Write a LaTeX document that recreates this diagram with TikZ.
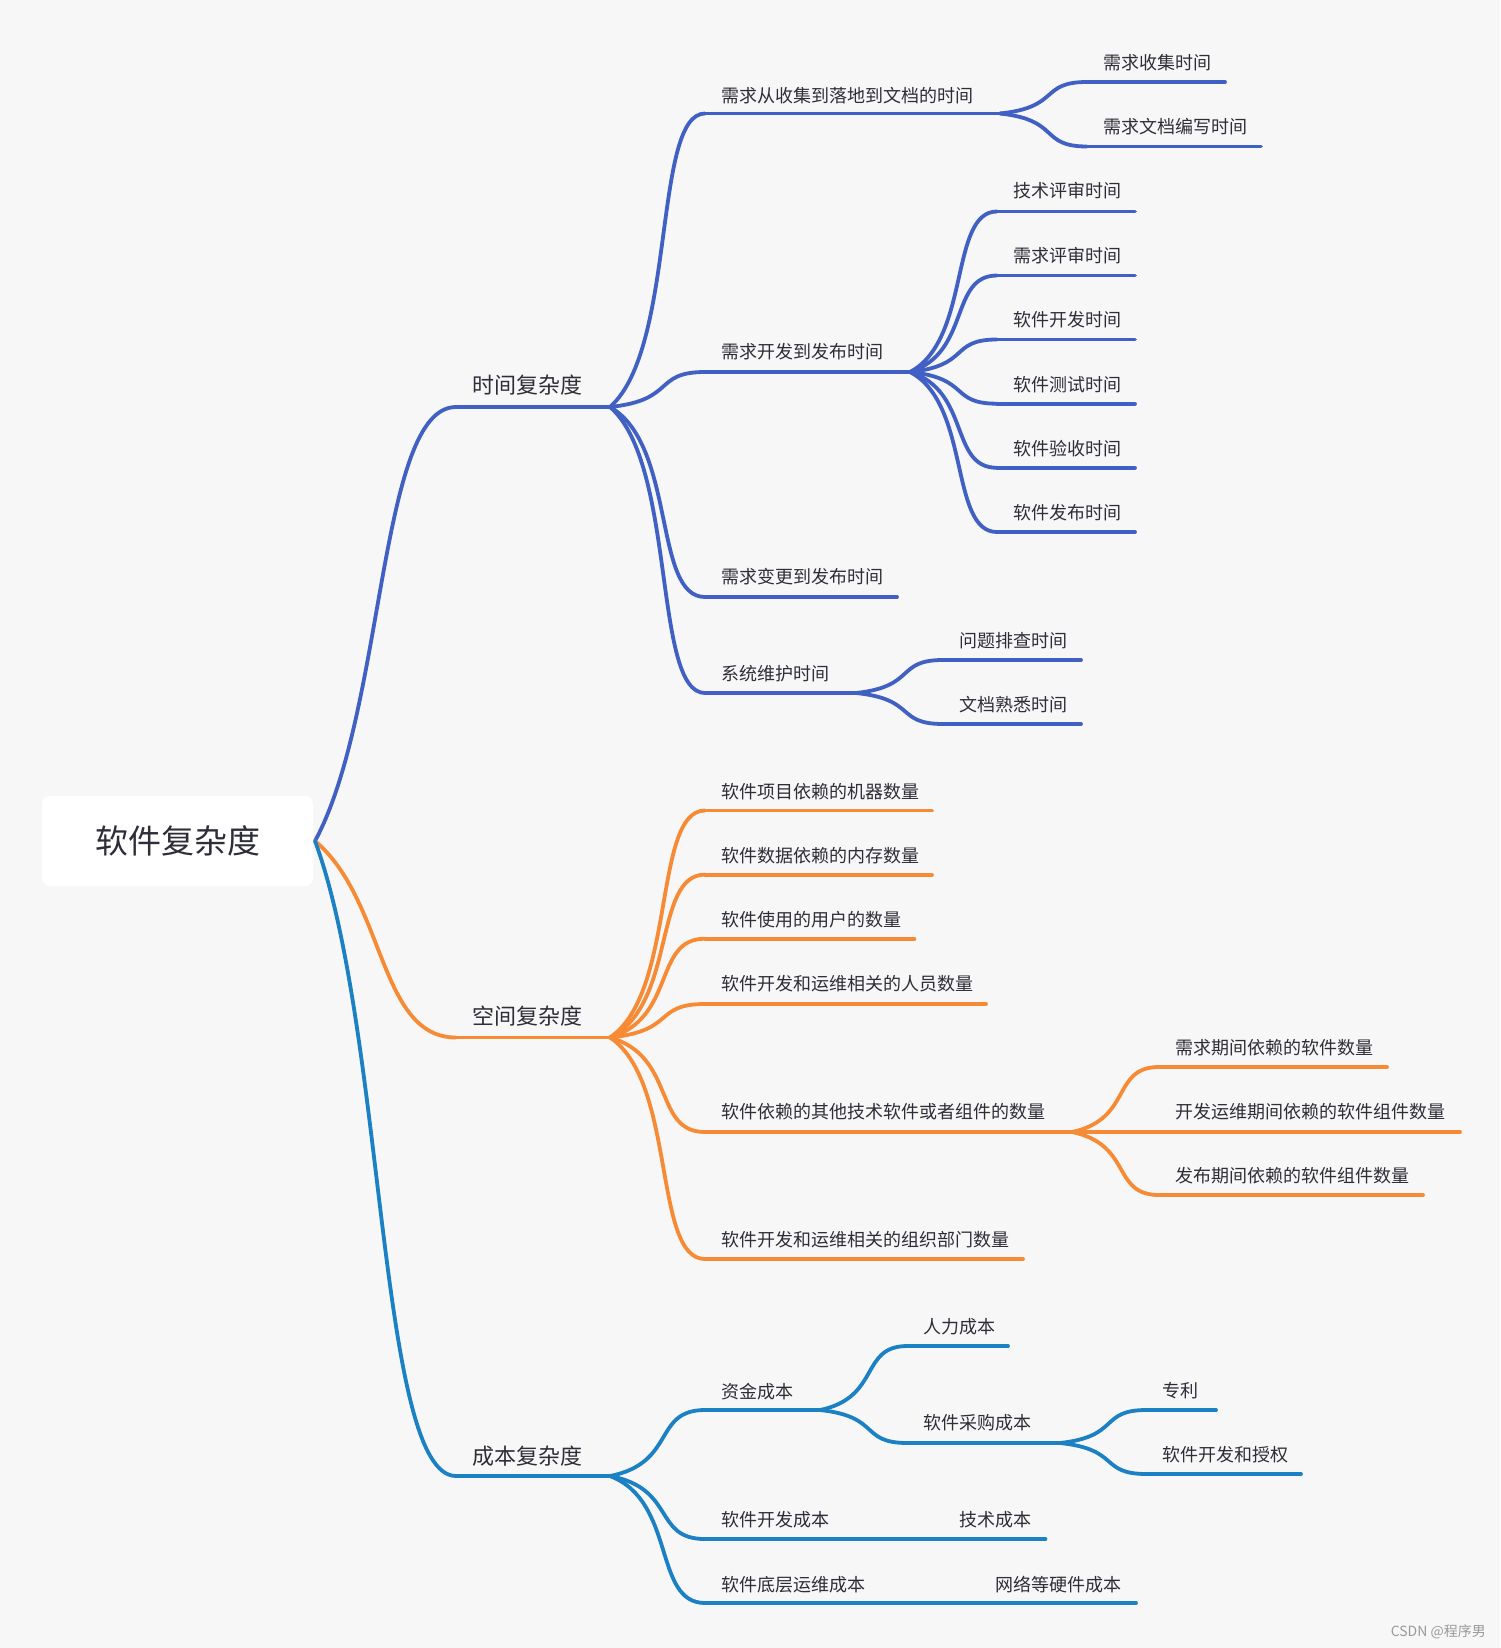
\documentclass[tikz,border=0pt]{standalone}
\usepackage{fontspec}
\newfontfamily\cjk{Noto Sans CJK SC}
\usetikzlibrary{calc}
\definecolor{bgc}{HTML}{F7F7F7}
\definecolor{txtc}{HTML}{2E2E38}
\definecolor{tblue}{HTML}{4160C4}
\definecolor{sorange}{HTML}{F78B35}
\definecolor{cblue}{HTML}{1B80C4}
\definecolor{wm}{HTML}{9A9A9A}
\tikzset{
  branch/.style={line width=3.8pt, line cap=round},
  tone/.style={font=\cjk\fontsize{18}{18}\selectfont, text=txtc, inner sep=0pt, text height=15pt, text depth=1.3pt, anchor=west},
  ttwo/.style={font=\cjk\fontsize{22}{22}\selectfont, text=txtc, inner sep=0pt, text height=18.3pt, text depth=1.5pt, anchor=west},
  rootbox/.style={font=\cjk\fontsize{33}{33}\selectfont, text=txtc, fill=white, rounded corners=8pt, minimum width=271pt, minimum height=90pt, inner sep=0pt, text height=27.4pt, text depth=2.3pt},
}
% #1 name, #2 colour, #3 text style, #4 line start x, #5 line y, #6 text x, #7 text y, #8 line end x, #9 text
\newcommand\mnode[9]{%
  \node[#3] (#1) at (#6,#7) {#9};
  \coordinate (#1-s) at (#4,#5);
  \coordinate (#1-e) at (#8,#5);
  \draw[#2, branch] (#1-s) -- (#1-e);
}
% connector from a parent end to a child start: #1 colour, #2 from, #3 to
\newcommand\conn[3]{%
  \draw[#1, branch] let \p1=(#2), \p2=(#3) in (\p1) .. controls ({\x1+0.7*(\x2-\x1)},{\y1+0.2*(\y2-\y1)}) and ({\x1+0.45*(\x2-\x1)},\y2) .. (\p2);
}
\newcommand\connroot[3]{%
  \draw[#1, branch] let \p1=(#2), \p2=(#3) in (\p1) .. controls ({\x1+0.5*(\x2-\x1)},{\y1+0.3*(\y2-\y1)}) and ({\x1+0.45*(\x2-\x1)},\y2) .. (\p2);
}
\begin{document}
\begin{tikzpicture}[x=1pt,y=-1pt]
\path[fill=bgc] (0,0) rectangle (1500,1648);
\useasboundingbox (0,0) rectangle (1500,1648);

% root
\node[rootbox] (root) at (177.5,841) {软件复杂度};
\coordinate (root-e) at (315,841);

% level 1
\mnode{T}{tblue}{ttwo}{456}{407}{472}{385}{610}{时间复杂度}
\mnode{S}{sorange}{ttwo}{456}{1037.5}{472}{1016.5}{610}{空间复杂度}
\mnode{C}{cblue}{ttwo}{456}{1476}{472}{1456}{610}{成本复杂度}
\connroot{tblue}{root-e}{T-s}
\connroot{sorange}{root-e}{S-s}
\connroot{cblue}{root-e}{C-s}

% time branch
\mnode{Ta}{tblue}{tone}{705}{113.5}{721}{95.7}{1000}{需求从收集到落地到文档的时间}
\mnode{Tb}{tblue}{tone}{705}{372}{721}{352}{910}{需求开发到发布时间}
\mnode{Tc}{tblue}{tone}{705}{597}{721}{577}{897}{需求变更到发布时间}
\mnode{Td}{tblue}{tone}{705}{693}{721}{674}{856}{系统维护时间}
\conn{tblue}{T-e}{Ta-s}
\conn{tblue}{T-e}{Tb-s}
\conn{tblue}{T-e}{Tc-s}
\conn{tblue}{T-e}{Td-s}

\mnode{Ta1}{tblue}{tone}{1087}{82}{1103}{63}{1225}{需求收集时间}
\mnode{Ta2}{tblue}{tone}{1087}{146.5}{1103}{127}{1261}{需求文档编写时间}
\conn{tblue}{Ta-e}{Ta1-s}
\conn{tblue}{Ta-e}{Ta2-s}

\mnode{Tb1}{tblue}{tone}{997}{211.5}{1013}{191}{1135}{技术评审时间}
\mnode{Tb2}{tblue}{tone}{997}{275.5}{1013}{255.5}{1135}{需求评审时间}
\mnode{Tb3}{tblue}{tone}{997}{339.5}{1013}{319.6}{1135}{软件开发时间}
\mnode{Tb4}{tblue}{tone}{997}{403.7}{1013}{384.7}{1135}{软件测试时间}
\mnode{Tb5}{tblue}{tone}{997}{467.8}{1013}{448.9}{1135}{软件验收时间}
\mnode{Tb6}{tblue}{tone}{997}{532}{1013}{513}{1135}{软件发布时间}
\conn{tblue}{Tb-e}{Tb1-s}
\conn{tblue}{Tb-e}{Tb2-s}
\conn{tblue}{Tb-e}{Tb3-s}
\conn{tblue}{Tb-e}{Tb4-s}
\conn{tblue}{Tb-e}{Tb5-s}
\conn{tblue}{Tb-e}{Tb6-s}

\mnode{Td1}{tblue}{tone}{943}{660}{959}{641}{1081}{问题排查时间}
\mnode{Td2}{tblue}{tone}{943}{724}{959}{705}{1081}{文档熟悉时间}
\conn{tblue}{Td-e}{Td1-s}
\conn{tblue}{Td-e}{Td2-s}

% space branch
\mnode{Sa}{sorange}{tone}{705}{810.5}{721}{791.6}{932}{软件项目依赖的机器数量}
\mnode{Sb}{sorange}{tone}{705}{874.6}{721}{855.7}{932}{软件数据依赖的内存数量}
\mnode{Sc}{sorange}{tone}{705}{938.7}{721}{919.8}{914.5}{软件使用的用户的数量}
\mnode{Sd}{sorange}{tone}{705}{1004}{721}{984}{986}{软件开发和运维相关的人员数量}
\mnode{Se}{sorange}{tone}{705}{1132}{721}{1112}{1072}{软件依赖的其他技术软件或者组件的数量}
\mnode{Sf}{sorange}{tone}{705}{1259}{721}{1240}{1023}{软件开发和运维相关的组织部门数量}
\conn{sorange}{S-e}{Sa-s}
\conn{sorange}{S-e}{Sb-s}
\conn{sorange}{S-e}{Sc-s}
\conn{sorange}{S-e}{Sd-s}
\conn{sorange}{S-e}{Se-s}
\conn{sorange}{S-e}{Sf-s}

\mnode{Se1}{sorange}{tone}{1159}{1067}{1175}{1048}{1387}{需求期间依赖的软件数量}
\mnode{Se2}{sorange}{tone}{1159}{1132}{1175}{1112}{1460}{开发运维期间依赖的软件组件数量}
\mnode{Se3}{sorange}{tone}{1159}{1195}{1175}{1176}{1423}{发布期间依赖的软件组件数量}
\conn{sorange}{Se-e}{Se1-s}
\conn{sorange}{Se-e}{Se2-s}
\conn{sorange}{Se-e}{Se3-s}

% cost branch
\mnode{Ca}{cblue}{tone}{705}{1410}{721}{1391.5}{820}{资金成本}
\mnode{Cb}{cblue}{tone}{705}{1539}{721}{1520}{850}{软件开发成本}
\mnode{Cc}{cblue}{tone}{705}{1603}{721}{1585}{885}{软件底层运维成本}
\conn{cblue}{C-e}{Ca-s}
\conn{cblue}{C-e}{Cb-s}
\conn{cblue}{C-e}{Cc-s}

\mnode{Ca1}{cblue}{tone}{907.5}{1346}{923.5}{1327}{1008}{人力成本}
\mnode{Ca2}{cblue}{tone}{907.5}{1443}{923.5}{1423}{1060}{软件采购成本}
\conn{cblue}{Ca-e}{Ca1-s}
\conn{cblue}{Ca-e}{Ca2-s}

\mnode{Ca21}{cblue}{tone}{1146.5}{1410}{1162.5}{1391}{1216}{专利}
\mnode{Ca22}{cblue}{tone}{1146.5}{1474}{1162.5}{1455}{1301}{软件开发和授权}
\conn{cblue}{Ca2-e}{Ca21-s}
\conn{cblue}{Ca2-e}{Ca22-s}

\mnode{Cb1}{cblue}{tone}{937}{1539}{959}{1520}{1045.5}{技术成本}
\conn{cblue}{Cb-e}{Cb1-s}
\mnode{Cc1}{cblue}{tone}{973}{1603}{995}{1585}{1136}{网络等硬件成本}
\conn{cblue}{Cc-e}{Cc1-s}

% watermark
\node[font=\cjk\fontsize{14}{14}\selectfont, text=wm, inner sep=0pt, anchor=east] (wmark) at (1486,1632) {CSDN @程序男};
\end{tikzpicture}
\end{document}
